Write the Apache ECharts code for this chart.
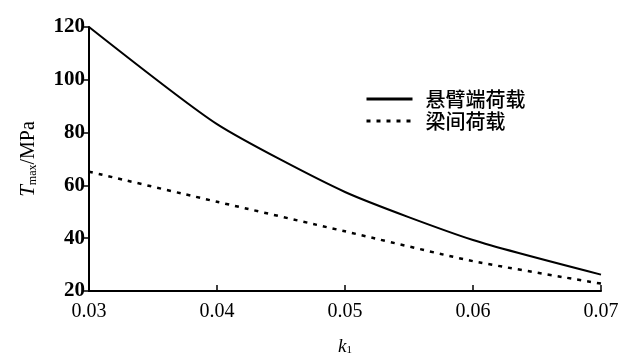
<!DOCTYPE html>
<html><head><meta charset="utf-8">
<script src="https://cdn.jsdelivr.net/npm/echarts@6/dist/echarts.min.js"></script>
<style>html,body{margin:0;padding:0;background:#fff}#c{width:631px;height:361px}</style>
</head><body><div id="c"></div>
<script>
var categories = [0.03, 0.04, 0.05, 0.06, 0.07];
var cantileverLoad = [120, 83.2, 57.5, 39.3, 26.2];
var spanLoad = [65.2, 53.8, 42.6, 31.3, 22.8];
var seriesNames = ['悬臂端荷载', '梁间荷载'];
var yTicks = [20, 40, 60, 80, 100, 120];

var chart = echarts.init(document.getElementById('c'));
var serif = '"Liberation Serif","Times New Roman",serif';
chart.setOption({
  animation: false,
  backgroundColor: '#fff',
  grid: {left: 89, right: 30, top: 27, bottom: 68},
  legend: {
    orient: 'vertical', left: 360, top: 84, itemGap: 2,
    itemWidth: 46, itemHeight: 20,
    itemStyle: {opacity: 0},
    lineStyle: {width: 3},
    textStyle: {fontFamily: '"Noto Sans CJK SC",sans-serif', fontSize: 20, fontWeight: 500, color: '#000', padding: [0,0,0,8]},
    data: seriesNames
  },
  xAxis: {
    type: 'value', min: 0.03, max: 0.07, interval: 0.01,
    name: '{i|k}{s|1}', nameLocation: 'middle', nameGap: 46,
    nameTextStyle: {rich: {
      i: {fontFamily: serif, fontStyle: 'italic', fontSize: 19, color: '#000'},
      s: {fontFamily: serif, fontSize: 11, color: '#000', verticalAlign: 'bottom', padding: [8,0,0,0]}
    }},
    axisLine: {lineStyle: {color: '#000', width: 2}},
    axisTick: {inside: true, length: 6, lineStyle: {color: '#000', width: 1.5}},
    axisLabel: {fontFamily: serif, fontSize: 20, color: '#000', margin: 11,
      formatter: function(v){ return v.toFixed(2); }},
    splitLine: {show: false}
  },
  yAxis: {
    type: 'value', min: 20, max: 120, interval: 20,
    name: '{i|T}{s|max}{n|/MPa}', nameLocation: 'middle', nameGap: 50, nameRotate: 90,
    nameTextStyle: {rich: {
      i: {fontFamily: serif, fontStyle: 'italic', fontSize: 21, color: '#000'},
      s: {fontFamily: serif, fontSize: 12, color: '#000', padding: [9,0,0,0]},
      n: {fontFamily: serif, fontSize: 20, color: '#000'}
    }},
    axisLine: {show: true, lineStyle: {color: '#000', width: 2}},
    axisTick: {show: true, inside: false, length: 5, lineStyle: {color: '#000', width: 1.5}},
    axisLabel: {fontFamily: serif, fontSize: 21, fontWeight: 'bold', color: '#000', margin: 4,
      formatter: function(v){ return yTicks.indexOf(v) >= 0 ? String(v) : ''; }},
    splitLine: {show: false}
  },
  series: [
    {name: seriesNames[0], type: 'line', smooth: 0.2, symbol: 'none',
     data: categories.map(function(x,i){ return [x, cantileverLoad[i]]; }),
     lineStyle: {color: '#000', width: 2}, itemStyle: {color: '#000'}},
    {name: seriesNames[1], type: 'line', smooth: 0.2, symbol: 'none',
     data: categories.map(function(x,i){ return [x, spanLoad[i]]; }),
     lineStyle: {color: '#000', width: 2.5, type: [4, 6]}, itemStyle: {color: '#000'}}
  ]
});
</script></body></html>
